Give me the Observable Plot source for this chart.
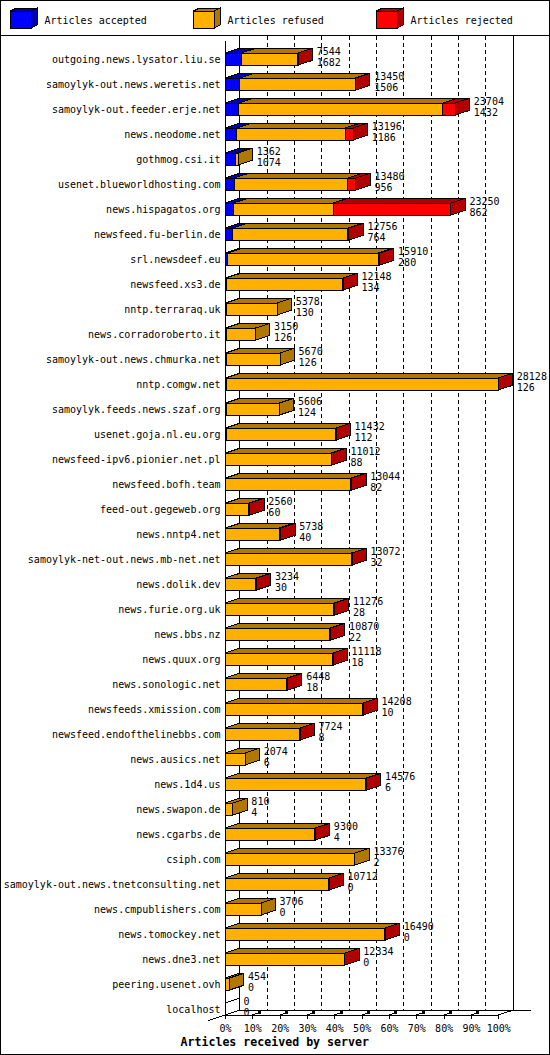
<!DOCTYPE html>
<html><head><meta charset="utf-8">
<script src="https://cdn.jsdelivr.net/npm/d3@7"></script>
<script src="https://cdn.jsdelivr.net/npm/@observablehq/plot@0.6"></script>
<style>
html,body{margin:0;padding:0;background:#fff;}
#root{position:relative;width:550px;height:1055px;overflow:hidden;background:#fff;}
#border{position:absolute;left:0;top:0;width:550px;height:1055px;box-sizing:border-box;border:1px solid #000;pointer-events:none;}
svg{display:block;}
</style></head><body>
<div id="root"><div id="legend"></div><div id="chart"></div><div id="border"></div></div>
<script>
const servers = [
"outgoing.news.lysator.liu.se","samoylyk-out.news.weretis.net","samoylyk-out.feeder.erje.net","news.neodome.net",
"gothmog.csi.it","usenet.blueworldhosting.com","news.hispagatos.org","newsfeed.fu-berlin.de","srl.newsdeef.eu",
"newsfeed.xs3.de","nntp.terraraq.uk","news.corradoroberto.it","samoylyk-out.news.chmurka.net","nntp.comgw.net",
"samoylyk.feeds.news.szaf.org","usenet.goja.nl.eu.org","newsfeed-ipv6.pionier.net.pl","newsfeed.bofh.team",
"feed-out.gegeweb.org","news.nntp4.net","samoylyk-net-out.news.mb-net.net","news.dolik.dev","news.furie.org.uk",
"news.bbs.nz","news.quux.org","news.sonologic.net","newsfeeds.xmission.com","newsfeed.endofthelinebbs.com",
"news.ausics.net","news.1d4.us","news.swapon.de","news.cgarbs.de","csiph.com","samoylyk-out.news.tnetconsulting.net",
"news.cmpublishers.com","news.tomockey.net","news.dne3.net","peering.usenet.ovh","localhost"];
const totals = [7544,13450,23704,13196,1362,13480,23250,12756,15910,12148,5378,3150,5670,28128,5606,11432,11012,13044,2560,5738,13072,3234,11276,10870,11118,6448,14208,7724,2074,14576,810,9300,13376,10712,3706,16490,12334,454,0];
const accepted = [1682,1506,1432,1186,1074,956,862,764,280,134,130,126,126,126,124,112,88,82,60,40,32,30,28,22,18,18,10,8,6,6,4,4,2,0,0,0,0,0,0];
const refused = [5812,11904,20972,11200,288,11674,10288,11892,15500,11984,5248,3024,5544,27972,5482,11280,10824,12862,2400,5548,13000,3134,11158,10758,11060,6330,14158,7696,2068,14480,806,9256,13374,10692,3706,16440,12314,454,0];
const rejected = [50,40,1300,810,0,850,12100,100,130,30,0,0,0,30,0,40,100,100,100,150,40,70,90,90,40,100,40,20,0,90,0,40,0,20,0,50,20,0,0];
const seriesKeys = ["accepted","refused","rejected"];
const seriesNames = ["Articles accepted","Articles refused","Articles rejected"];
const frontColors = ["#0000ff","#ffb000","#ff0000"];
const darkColors = ["#0000b0","#b07800","#b00000"];
const tickPercents = [0,10,20,30,40,50,60,70,80,90,100];
const axisTitle = "Articles received by server";

const DX = 14.3, DY = 4.7;
const W = 550, H = 1019, MB = 40, MT = 4.5;

const segs = [];
servers.forEach((s,i)=>{
  [accepted[i],refused[i],rejected[i]].forEach((v,k)=>{ if (v>0) segs.push({server:s,type:seriesKeys[k],value:v}); });
});
const rows = servers.map((s,i)=>({server:s,total:totals[i],accepted:accepted[i]}));
const maxTotal = d3.max(totals);
const tickValues = tickPercents.map(p => maxTotal*p/100);

const chart = Plot.plot({
  width: W, height: H,
  marginLeft: 225, marginRight: 51.7, marginTop: MT, marginBottom: MB,
  style: {fontFamily: "'DejaVu Sans Mono', monospace", fontSize: "10px", color: "#000", background: "#fff", overflow: "visible"},
  x: {domain: [0, maxTotal], axis: null},
  y: {domain: servers, range: [10.5, 985.5], paddingInner: 0.52, paddingOuter: 0.26, axis: null},
  color: {domain: seriesKeys, range: frontColors},
  marks: [
    Plot.ruleX(tickValues.slice(1, -1), {dx: DX, dy: -DY, stroke: "#000", strokeDasharray: "4,3"}),
    Plot.ruleX([tickValues[0], tickValues[tickValues.length-1]], {dx: DX, dy: -DY, stroke: "#000"}),
    Plot.ruleX([0], {stroke: "#000"}),
    Plot.barX(segs, {y: "server", x: "value", fill: "type", stroke: "#000", strokeWidth: 1, order: seriesKeys}),
    Plot.text(rows, {x: "total", y: "server", text: d => String(d.total), dx: DX + 3.7, dy: -4.5, textAnchor: "start", lineAnchor: "bottom", fill: "#000"}),
    Plot.text(rows, {x: "total", y: "server", text: d => String(d.accepted), dx: DX + 3.7, dy: 6.7, textAnchor: "start", lineAnchor: "bottom", fill: "#000"}),
    Plot.text(servers, {y: d => d, text: d => d, frameAnchor: "left", textAnchor: "end", dx: -5, dy: 3.5, lineAnchor: "bottom", fill: "#000"}),
    Plot.axisX(tickValues, {tickSize: 4, tickPadding: 5.4, tickFormat: d => Math.round(d / maxTotal * 100) + "%", label: null, stroke: "#000", fill: "#000"}),
    Plot.text([axisTitle], {frameAnchor: "bottom-left", text: d => d, dx: -45, dy: 30.5, textAnchor: "start", lineAnchor: "bottom", fontWeight: "bold", fontSize: 11.6, fill: "#000"})
  ]
});
chart.setAttribute("shape-rendering", "crispEdges");

const xs = chart.scale("x"), ys = chart.scale("y");
const X = v => xs.apply(v);
const bw = ys.bandwidth;
const svg = d3.select(chart);
const pts = a => a.map(p => p.join(",")).join(" ");

// floor
const fy = H - MB;
const fl = svg.append("g").attr("stroke", "#000").attr("fill", "none");
fl.append("line").attr("x1", X(0) + DX).attr("y1", fy - DY).attr("x2", X(maxTotal) + DX + 18.4).attr("y2", fy - DY);
fl.append("line").attr("x1", X(0)).attr("y1", fy).attr("x2", X(maxTotal)).attr("y2", fy);
fl.append("line").attr("x1", X(0) - 17).attr("y1", fy + 5.6).attr("x2", X(0) + DX).attr("y2", fy - DY);
fl.append("line").attr("x1", X(maxTotal)).attr("y1", fy).attr("x2", X(maxTotal) + DX).attr("y2", fy - DY);
tickValues.slice(1, -1).forEach(v => {
  fl.append("line").attr("x1", X(v)).attr("y1", fy).attr("x2", X(v) + 8).attr("y2", fy - 2.6);
  fl.append("rect").attr("x", X(v) + 6).attr("y", fy - 3.5).attr("width", 2).attr("height", 2).attr("fill", "#000");
});

// 3D faces
const g = svg.append("g").attr("stroke", "#000").attr("stroke-width", 1);
servers.forEach((s, i) => {
  const yt = ys.apply(s), yb = yt + bw;
  const vals = [accepted[i], refused[i], rejected[i]];
  let a = 0, last = -1;
  vals.forEach((v, k) => {
    if (v > 0) {
      const b = a + v;
      g.append("polygon").attr("points", pts([[X(a), yt], [X(b), yt], [X(b) + DX, yt - DY], [X(a) + DX, yt - DY]])).attr("fill", darkColors[k]);
      a = b; last = k;
    }
  });
  if (last >= 0) {
    g.append("polygon").attr("points", pts([[X(a), yt], [X(a) + DX, yt - DY], [X(a) + DX, yb - DY], [X(a), yb]])).attr("fill", darkColors[last]);
  } else {
    g.append("line").attr("x1", X(0)).attr("y1", yt).attr("x2", X(0) + DX).attr("y2", yt - DY);
  }
});

document.getElementById("chart").appendChild(chart);

// legend
const lg = d3.select("#legend").append("svg").attr("width", W).attr("height", 36).attr("shape-rendering", "crispEdges")
  .style("font-family", "'DejaVu Sans Mono', monospace").style("font-size", "10px");
const legendX = [10.5, 193.5, 376.5];
seriesNames.forEach((name, k) => {
  const x0 = legendX[k], y0 = 11, w = 20.5, h = 17, d = 6, e = 3;
  const gg = lg.append("g").attr("stroke", "#000");
  gg.append("polygon").attr("points", pts([[x0, y0], [x0 + w, y0], [x0 + w + d, y0 - e], [x0 + d, y0 - e]])).attr("fill", darkColors[k]);
  gg.append("polygon").attr("points", pts([[x0 + w, y0], [x0 + w + d, y0 - e], [x0 + w + d, y0 + h - e], [x0 + w, y0 + h]])).attr("fill", darkColors[k]);
  gg.append("rect").attr("x", x0).attr("y", y0).attr("width", w).attr("height", h).attr("fill", frontColors[k]);
  lg.append("text").attr("x", x0 + 34).attr("y", 23.5).attr("fill", "#000").text(name);
});
lg.append("line").attr("x1", 0).attr("x2", W).attr("y1", 35.5).attr("y2", 35.5).attr("stroke", "#000");
</script>
</body></html>
